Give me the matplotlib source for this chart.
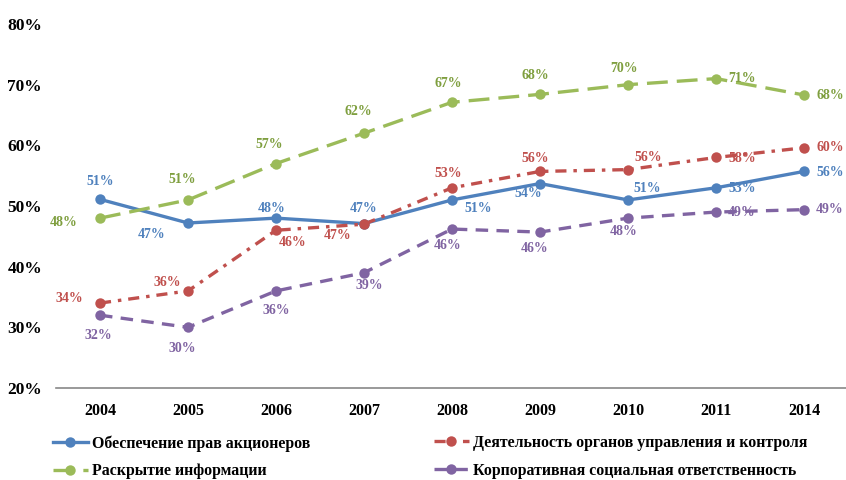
import matplotlib
matplotlib.use("Agg")
import matplotlib.pyplot as plt

plt.rcParams['font.family'] = ['Liberation Serif', 'DejaVu Serif']
plt.rcParams['font.weight'] = 'bold'
plt.rcParams['lines.scale_dashes'] = False

years = ['2004', '2005', '2006', '2007', '2008', '2009', '2010', '2011', '2014']

names = ['Обеспечение прав акционеров',
         'Деятельность органов управления и контроля',
         'Раскрытие информации',
         'Корпоративная социальная ответственность']

shareholders = [51.1, 47.2, 48.0, 47.1, 51.0, 53.7, 51.0, 53.0, 55.7]
governance = [34.0, 36.0, 46.0, 47.0, 53.0, 55.7, 56.0, 58.0, 59.6]
disclosure = [48.0, 51.0, 57.0, 62.0, 67.1, 68.4, 70.0, 71.0, 68.3]
csr = [32.0, 30.0, 36.0, 39.0, 46.2, 45.7, 48.0, 49.0, 49.4]

labels_sh = ['51%', '47%', '48%', '47%', '51%', '54%', '51%', '53%', '56%']
labels_gov = ['34%', '36%', '46%', '47%', '53%', '56%', '56%', '58%', '60%']
labels_dis = ['48%', '51%', '57%', '62%', '67%', '68%', '70%', '71%', '68%']
labels_csr = ['32%', '30%', '36%', '39%', '46%', '46%', '48%', '49%', '49%']

yticks = [20, 30, 40, 50, 60, 70, 80]

# label offsets in pixels (dx, dy up-positive)
off_sh = [(0, 18), (-36, -12), (-4, 10), (0, 15), (26, -9), (-12, -10), (19, 11), (26, -1), (26, -1)]
off_gov = [(-31, 5), (-21, 8), (17, -12), (-26, -11), (-4, 14), (-5, 13), (20, 12), (26, -1), (26, 0)]
off_dis = [(-36, -4), (-6, 20), (-7, 19), (-6, 22), (-4, 19), (-5, 19), (-4, 16), (26, 0), (26, -1)]
off_csr = [(-2, -20), (-6, -21), (0, -20), (5, -13), (-4, -16), (-5, -16), (-4, -13), (26, 0), (26, 0)]

colors = ['#4F81BD', '#C0504D', '#9BBB59', '#8064A2']
text_colors = ['#4F81BD', '#C0504D', '#7F9F3F', '#8064A2']
styles = ['-', (0, (8, 5, 2.5, 5)), (0, (15, 6.5)), (0, (9, 6))]

fig = plt.figure(figsize=(8.46, 4.8), dpi=100)
ax = fig.add_axes([56 / 846, 1 - 388 / 480, 792 / 846, (388 - 24) / 480])

series = [shareholders, governance, disclosure, csr]
labs = [labels_sh, labels_gov, labels_dis, labels_csr]
offs = [off_sh, off_gov, off_dis, off_csr]
x = list(range(len(years)))
handles = []
for vals, lab, off, c, tc, ls, nm in zip(series, labs, offs, colors, text_colors, styles, names):
    h, = ax.plot(x, vals, color=c, linestyle=ls, linewidth=2.4, marker='o',
                 markersize=7.5, markeredgewidth=0, label=nm, zorder=3)
    handles.append(h)
    for xi, v, t, (dx, dy) in zip(x, vals, lab, off):
        ax.annotate(t, (xi, v), xytext=(dx, dy), textcoords='offset pixels',
                    ha='center', va='center', color=tc, fontsize=10,
                    fontweight='bold', zorder=4)

ax.set_xlim(-0.5, 8.5)
ax.set_ylim(20, 80)
ax.set_yticks(yticks)
ax.set_yticklabels([f'{v}%' for v in yticks], fontsize=12.5, fontweight='bold')
ax.set_xticks(x)
ax.set_xticklabels(years, fontsize=11.5, fontweight='bold')
for s in ['top', 'right', 'left']:
    ax.spines[s].set_visible(False)
ax.spines['bottom'].set_color('#888888')
ax.spines['bottom'].set_linewidth(1.2)
ax.tick_params(axis='y', length=0, pad=10)
ax.tick_params(axis='x', length=0, pad=11)

legkw = dict(loc='upper left', ncol=1, frameon=False, fontsize=11.4,
             handlelength=2.2, handletextpad=0.25, labelspacing=0.75,
             borderaxespad=0, borderpad=0)
leg1 = fig.legend([handles[0], handles[2]], [names[0], names[2]],
                  bbox_to_anchor=(53 / 846, 1 - 435 / 480), **legkw)
leg2 = fig.legend([handles[1], handles[3]], [names[1], names[3]],
                  bbox_to_anchor=(434 / 846, 1 - 435 / 480), **legkw)
for lg in (leg1, leg2):
    for t in lg.get_texts():
        t.set_fontweight('bold')

fig.savefig('out.png', dpi=100)
